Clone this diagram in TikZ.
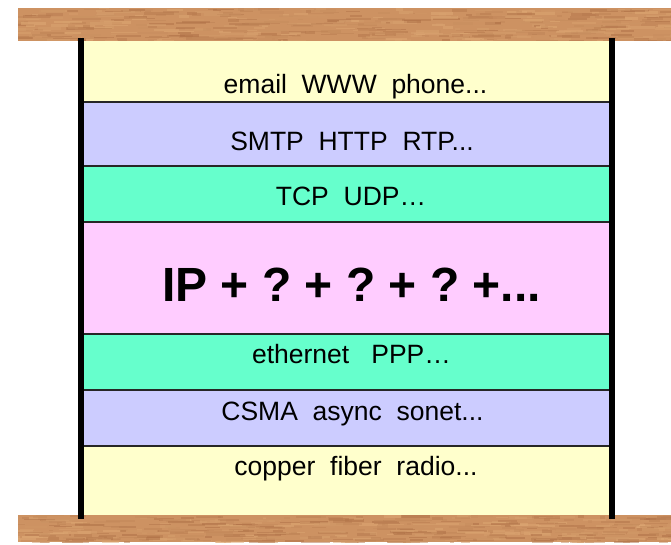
\documentclass[tikz,border=0pt]{standalone}
\usepackage{fontspec}
\setmainfont{Liberation Sans}
\frenchspacing
\definecolor{appyellow}{HTML}{FFFFCC}
\definecolor{applav}{HTML}{CCCCFF}
\definecolor{appgreen}{HTML}{66FFCC}
\definecolor{apppink}{HTML}{FFCCFF}
\definecolor{woodbase}{HTML}{CD9262}
\definecolor{woodlight}{HTML}{E0AB76}
\definecolor{wooddark}{HTML}{AC6D44}
\tikzset{
  layerbox/.style={fill=#1, draw=none},
  separator/.style={draw=black!85, line width=2pt},
  post/.style={line width=6pt, draw=black},
  label/.style={anchor=base, inner sep=0pt, font=\fontsize{26.5}{30}\selectfont},
  biglabel/.style={anchor=base, inner sep=0pt, font=\fontsize{48}{56}\selectfont\bfseries},
}
% draws a wooden plank between two corners
\newcommand{\woodplank}[4]{%
  \begin{scope}
    \clip (#1,#2) rectangle (#3,#4);
    \fill[woodbase] (#1,#2) rectangle (#3,#4);
    \foreach \k in {1,...,520} {
      \pgfmathsetmacro{\wx}{#1-20+rnd*(#3-#1+20)}
      \pgfmathsetmacro{\wy}{#2+rnd*(#4-#2)}
      \pgfmathsetmacro{\wl}{4+rnd*26}
      \pgfmathsetmacro{\wh}{1+rnd*2}
      \pgfmathsetmacro{\wc}{rnd*100}
      \fill[woodlight!\wc!wooddark, opacity=0.5] (\wx,\wy) rectangle ++(\wl,\wh);
    }
  \end{scope}}
\begin{document}
\begin{tikzpicture}[x=1pt, y=-1pt]
\useasboundingbox (0,0) rectangle (671,544);
\pgfmathsetseed{4711}

% protocol layers
\fill[layerbox=appyellow] (84,40) rectangle (609,102);
\fill[layerbox=applav]    (84,102) rectangle (609,166);
\fill[layerbox=appgreen]  (84,166) rectangle (609,222);
\fill[layerbox=apppink]   (84,222) rectangle (609,334);
\fill[layerbox=appgreen]  (84,334) rectangle (609,390);
\fill[layerbox=applav]    (84,390) rectangle (609,446);
\fill[layerbox=appyellow] (84,446) rectangle (609,516);

% borders between layers
\foreach \yb in {102,166,222,334,390,446}
  \draw[separator] (84,\yb) -- (609,\yb);

% wooden shelves
\woodplank{18}{8}{671}{40.5}
\woodplank{18}{515}{671}{542}

% side posts
\coordinate (lt) at (81,38);
\coordinate (lb) at (81,519);
\coordinate (rt) at (612,38);
\coordinate (rb) at (612,519);
\draw[post] (lt) -- (lb);
\draw[post] (rt) -- (rb);

% layer texts
\node[label] (app)   at (355.5,93)  {email\ \ WWW\ \ phone...};
\node[label] (proto) at (352,150) {SMTP\ \ HTTP\ \ RTP...};
\node[label] (trans) at (351,205) {TCP\ \ UDP…};
\node[biglabel] (net) at (351.5,301) {IP + ? + ? + ? +...};
\node[label] (link)  at (351.5,363) {ethernet\ \ \ PPP…};
\node[label] (mac)   at (352.5,420) {CSMA\ \ async\ \ sonet...};
\node[label] (phys)  at (356,475) {copper\ \ fiber\ \ radio...};
\end{tikzpicture}
\end{document}
